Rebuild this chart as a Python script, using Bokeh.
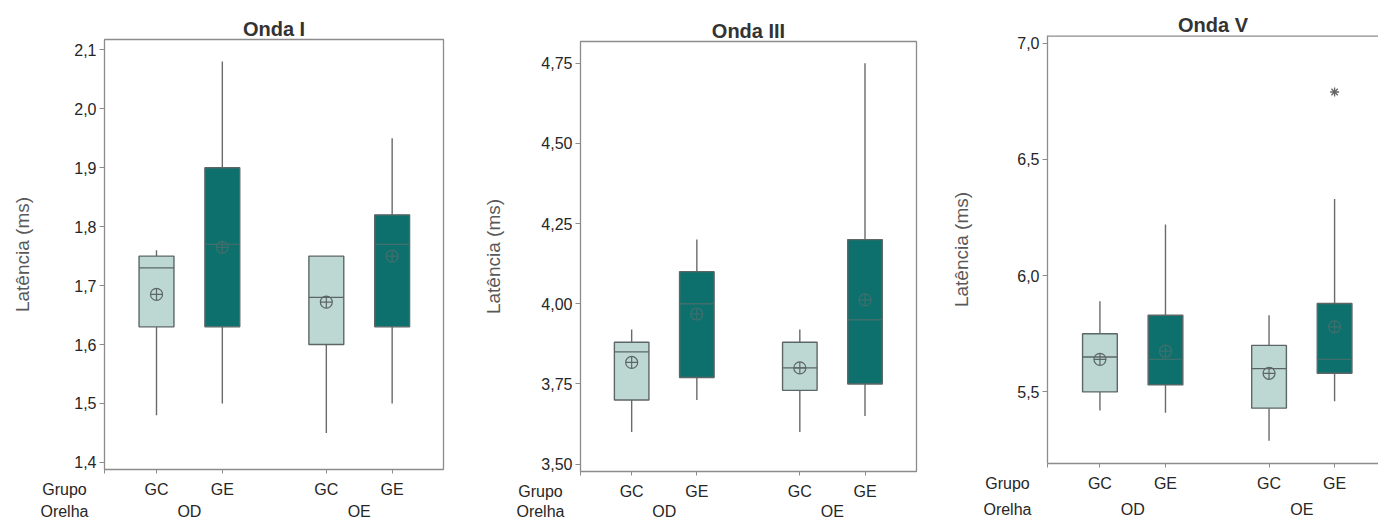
from bokeh.plotting import figure
from bokeh.models import (Range1d, LinearAxis, FixedTicker, CustomJSTickFormatter, Span)
from bokeh.layouts import row, column
from bokeh.embed import file_html
from bokeh.resources import INLINE

# Factor levels (outer: ear, inner: group)
orelhas = ["OD", "OE"]
grupos = ["GC", "GE"]
factor_titles = ["Grupo", "Orelha"]

# Box statistics, in order OD-GC, OD-GE, OE-GC, OE-GE
onda_i_min = [1.48, 1.50, 1.45, 1.50]
onda_i_q1 = [1.63, 1.63, 1.60, 1.63]
onda_i_med = [1.73, 1.77, 1.68, 1.77]
onda_i_q3 = [1.75, 1.90, 1.75, 1.82]
onda_i_max = [1.76, 2.08, 1.75, 1.95]
onda_i_mean = [1.685, 1.765, 1.672, 1.75]

onda_iii_min = [3.60, 3.70, 3.60, 3.65]
onda_iii_q1 = [3.70, 3.77, 3.73, 3.75]
onda_iii_med = [3.85, 4.00, 3.80, 3.95]
onda_iii_q3 = [3.88, 4.10, 3.88, 4.20]
onda_iii_max = [3.92, 4.20, 3.92, 4.75]
onda_iii_mean = [3.817, 3.968, 3.80, 4.012]

onda_v_min = [5.42, 5.41, 5.29, 5.46]
onda_v_q1 = [5.50, 5.53, 5.43, 5.58]
onda_v_med = [5.65, 5.64, 5.60, 5.64]
onda_v_q3 = [5.75, 5.83, 5.70, 5.88]
onda_v_max = [5.89, 6.22, 5.83, 6.33]
onda_v_mean = [5.64, 5.675, 5.58, 5.78]
# Outliers: (box index, value)
onda_v_outlier_box = [3]
onda_v_outlier_val = [6.79]

# Y tick values per panel
ticks_i = [1.4, 1.5, 1.6, 1.7, 1.8, 1.9, 2.0, 2.1]
ticks_iii = [3.50, 3.75, 4.00, 4.25, 4.50, 4.75]
ticks_v = [5.5, 6.0, 6.5, 7.0]

LIGHT = "#bdd8d3"
DARK = "#0e706d"
EDGE = "#5d6666"
EDGE_ON_DARK = "#3f6f6d"
WHISKER = "#6a6a6a"
FRAME = "#8c8c8c"
FONT = "Liberation Sans"
TEXT = "#262626"
FSPACE = "\u2007"

GROUP_STEP = 2.58
BOX_W = 0.53

xs = [gi * GROUP_STEP + si for gi in range(len(orelhas)) for si in range(len(grupos))]
centers = [gi * GROUP_STEP + (len(grupos) - 1) / 2 for gi in range(len(orelhas))]
sub_names = [g for _ in orelhas for g in grupos]
is_light = [g == "GC" for _ in orelhas for g in grupos]
fills = [LIGHT if lt else DARK for lt in is_light]
inner = [EDGE if lt else EDGE_ON_DARK for lt in is_light]


def cat_formatter(pos, names):
    return CustomJSTickFormatter(args=dict(pos=pos, names=names), code="""
        for (let i = 0; i < pos.length; i++) {
            if (Math.abs(tick - pos[i]) < 1e-4) return names[i];
        }
        return '';
    """)


def row_title(name):
    # centred on the frame's left edge; the trailing figure spaces push the
    # visible word to the left of the frame
    return name + FSPACE * 9


def style_cat_axis(ax, standoff):
    ax.major_tick_in = 0
    ax.minor_tick_line_color = None
    ax.major_label_standoff = standoff
    ax.major_label_text_font = FONT
    ax.major_label_text_font_size = "16px"
    ax.major_label_text_color = TEXT
    ax.major_label_text_line_height = 1.0


def panel(title, lo, q1, med, q3, hi, mean, yr, yticks, digits, width, xr,
          borders, ylab_standoff, standoffs, open_right=False, out_idx=(), out_val=()):
    left, right, top, bottom = borders
    p = figure(width=width, height=522, x_range=Range1d(*xr), y_range=Range1d(*yr),
               x_axis_type=None, output_backend="svg", toolbar_location=None,
               min_border_left=left, min_border_right=right,
               min_border_top=top, min_border_bottom=bottom)
    p.background_fill_color = "white"
    p.border_fill_color = "white"
    p.ygrid.visible = False
    if open_right:
        p.outline_line_color = None
        p.add_layout(Span(location=yr[1], dimension="width", line_color=FRAME, line_width=2.6))
    else:
        p.outline_line_color = FRAME
        p.outline_line_width = 1.3

    p.title.text = title
    p.title.align = "center"
    p.title.text_font = FONT
    p.title.text_font_size = "20px"
    p.title.text_font_style = "bold"
    p.title.text_color = "#333333"
    p.title.standoff = 0
    p.title.text_line_height = 1.0

    # whiskers
    p.segment(x0=xs, y0=q3, x1=xs, y1=hi, line_color=WHISKER, line_width=1.4)
    p.segment(x0=xs, y0=lo, x1=xs, y1=q1, line_color=WHISKER, line_width=1.4)
    # boxes
    p.vbar(x=xs, width=BOX_W, bottom=q1, top=q3, fill_color=fills,
           line_color=EDGE, line_width=1.4)
    # medians
    p.segment(x0=[x - BOX_W / 2 for x in xs], y0=med, x1=[x + BOX_W / 2 for x in xs],
              y1=med, line_color=inner, line_width=1.4)
    # means
    p.scatter(x=xs, y=mean, marker="circle_cross", size=12, fill_color=None,
              line_color=inner, line_width=1.2)
    # outliers
    if out_idx:
        p.scatter(x=[xs[i] for i in out_idx], y=list(out_val), marker="asterisk",
                  size=9, line_color="#666666", line_width=1.3)

    ya = p.yaxis[0]
    ya.ticker = FixedTicker(ticks=yticks)
    ya.formatter = CustomJSTickFormatter(args=dict(d=digits),
                                         code="return tick.toFixed(d).replace('.', ',');")
    ya.major_tick_out = 5
    ya.major_tick_in = 0
    ya.minor_tick_line_color = None
    ya.major_tick_line_color = FRAME
    ya.axis_line_color = FRAME if open_right else None
    ya.axis_line_width = 1.3
    ya.major_label_standoff = 3
    ya.major_label_text_font = FONT
    ya.major_label_text_font_size = "16px"
    ya.major_label_text_color = TEXT
    ya.axis_label = "Latência (ms)"
    ya.axis_label_text_font = FONT
    ya.axis_label_text_font_size = "19px"
    ya.axis_label_text_font_style = "normal"
    ya.axis_label_text_color = "#595959"
    ya.axis_label_standoff = ylab_standoff

    edge_tick = xr[0] + 1e-6
    s_inner, s_outer = standoffs

    # inner categorical axis (Grupo)
    t_in = [edge_tick] + xs
    xa = LinearAxis(ticker=FixedTicker(ticks=t_in),
                    formatter=cat_formatter(t_in, [row_title(factor_titles[0])] + sub_names))
    style_cat_axis(xa, s_inner)
    xa.major_tick_out = 4
    xa.major_tick_line_color = FRAME
    xa.axis_line_color = FRAME if open_right else None
    xa.axis_line_width = 1.3
    p.add_layout(xa, "below")

    # outer categorical axis (Orelha)
    t_out = [edge_tick] + centers
    xo = LinearAxis(ticker=FixedTicker(ticks=t_out),
                    formatter=cat_formatter(t_out, [row_title(factor_titles[1])] + orelhas))
    style_cat_axis(xo, s_outer)
    xo.major_tick_out = 0
    xo.major_tick_line_color = None
    xo.axis_line_color = None
    p.add_layout(xo, "below")
    return p


p1 = panel("Onda I", onda_i_min, onda_i_q1, onda_i_med, onda_i_q3, onda_i_max, onda_i_mean,
           (1.388, 2.1175), ticks_i, 1, 470, (-0.79, 4.36), (104, 27, 39, 53), 38, (7, 2))
p2 = panel("Onda III", onda_iii_min, onda_iii_q1, onda_iii_med, onda_iii_q3, onda_iii_max,
           onda_iii_mean, (3.477, 4.8176), ticks_iii, 2, 470, (-0.785, 4.37),
           (110, 24, 41, 51), 34, (7, 0))
p3 = panel("Onda V", onda_v_min, onda_v_q1, onda_v_med, onda_v_q3, onda_v_max, onda_v_mean,
           (5.192, 7.033), ticks_v, 1, 438, (-0.8, 4.25), (107, 0, 35, 59), 42, (7, 6),
           open_right=True, out_idx=onda_v_outlier_box, out_val=onda_v_outlier_val)

layout = row(column(p1), column(p2), column(p3))
open("out.html", "w").write(file_html(layout, INLINE))
